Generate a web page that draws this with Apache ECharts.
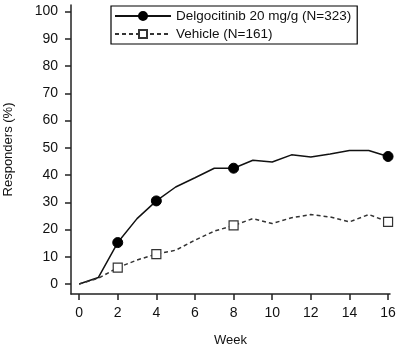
<!DOCTYPE html>
<html><head><meta charset="utf-8">
<script src="https://cdn.jsdelivr.net/npm/echarts@6/dist/echarts.min.js"></script>
<style>html,body{margin:0;padding:0;background:#fff}#c{width:400px;height:350px}</style>
</head><body><div id="c"></div>
<script>
const weeks = [0,1,2,3,4,5,6,7,8,9,10,11,12,13,14,15,16];
const delgocitinib = [0,2.4,15.2,24,30.5,35.6,39,42.5,42.5,45.4,44.8,47.4,46.6,47.7,49,49,46.8];
const vehicle = [0,2.1,6,8.8,11,12.4,16.1,19.4,21.5,24,22.2,24.3,25.5,24.6,22.8,25.5,22.8];
const markerWeeks = [2,4,8,16];
const xTicks = [0,2,4,6,8,10,12,14,16];
const yTicks = [0,10,20,30,40,50,60,70,80,90,100];
const seriesNames = ['Delgocitinib 20 mg/g (N=323)','Vehicle (N=161)'];

function build(vals){
  return weeks.map((w,i)=>{
    const d = {value:[w, vals[i]]};
    if(markerWeeks.indexOf(w) < 0) d.symbol = 'none';
    return d;
  });
}
const font = 'Liberation Sans, Arial, sans-serif';
const chart = echarts.init(document.getElementById('c'), null, {renderer:'canvas'});
chart.setOption({
  animation:false,
  textStyle:{fontFamily:font},
  grid:{left:71,right:10,top:5,bottom:56,containLabel:false,outerBoundsMode:'none'},
  legend:{
    orient:'vertical', left:111, top:6,
    itemWidth:56, itemHeight:10, itemGap:4,
    padding:[3,6,3,3],
    borderColor:'#000', borderWidth:1.2,
    textStyle:{fontSize:13.5,color:'#111',fontFamily:font},
    data:seriesNames
  },
  xAxis:{
    type:'value', min:-0.42, max:16.1,
    name:'Week', nameLocation:'middle', nameGap:40,
    nameTextStyle:{fontSize:13,color:'#111'},
    splitLine:{show:false},
    axisLine:{onZero:false,lineStyle:{color:'#222',width:1.5}},
    axisTick:{customValues:xTicks,length:6,lineStyle:{color:'#222',width:1.5}},
    axisLabel:{customValues:xTicks,fontSize:14,color:'#111',margin:12}
  },
  yAxis:{
    type:'value', min:-3.67, max:102.4,
    name:'Responders (%)', nameLocation:'middle', nameGap:56, nameRotate:90,
    nameTextStyle:{fontSize:13,color:'#111'},
    splitLine:{show:false},
    axisLine:{show:true,onZero:false,lineStyle:{color:'#222',width:1.5}},
    axisTick:{show:true,customValues:yTicks,length:6,lineStyle:{color:'#222',width:1.5}},
    axisLabel:{customValues:yTicks,fontSize:14,color:'#111',margin:13}
  },
  series:[
    {name:seriesNames[0],type:'line',data:build(delgocitinib),
     symbol:'circle',symbolSize:10,
     itemStyle:{color:'#000',borderColor:'#000',borderWidth:1},
     lineStyle:{color:'#111',width:1.5}},
    {name:seriesNames[1],type:'line',data:build(vehicle),
     symbol:'rect',symbolSize:9,
     itemStyle:{color:'#fff',borderColor:'#333',borderWidth:1.2},
     lineStyle:{color:'#333',width:1.5,type:[4,3]}}
  ]
});
</script></body></html>
